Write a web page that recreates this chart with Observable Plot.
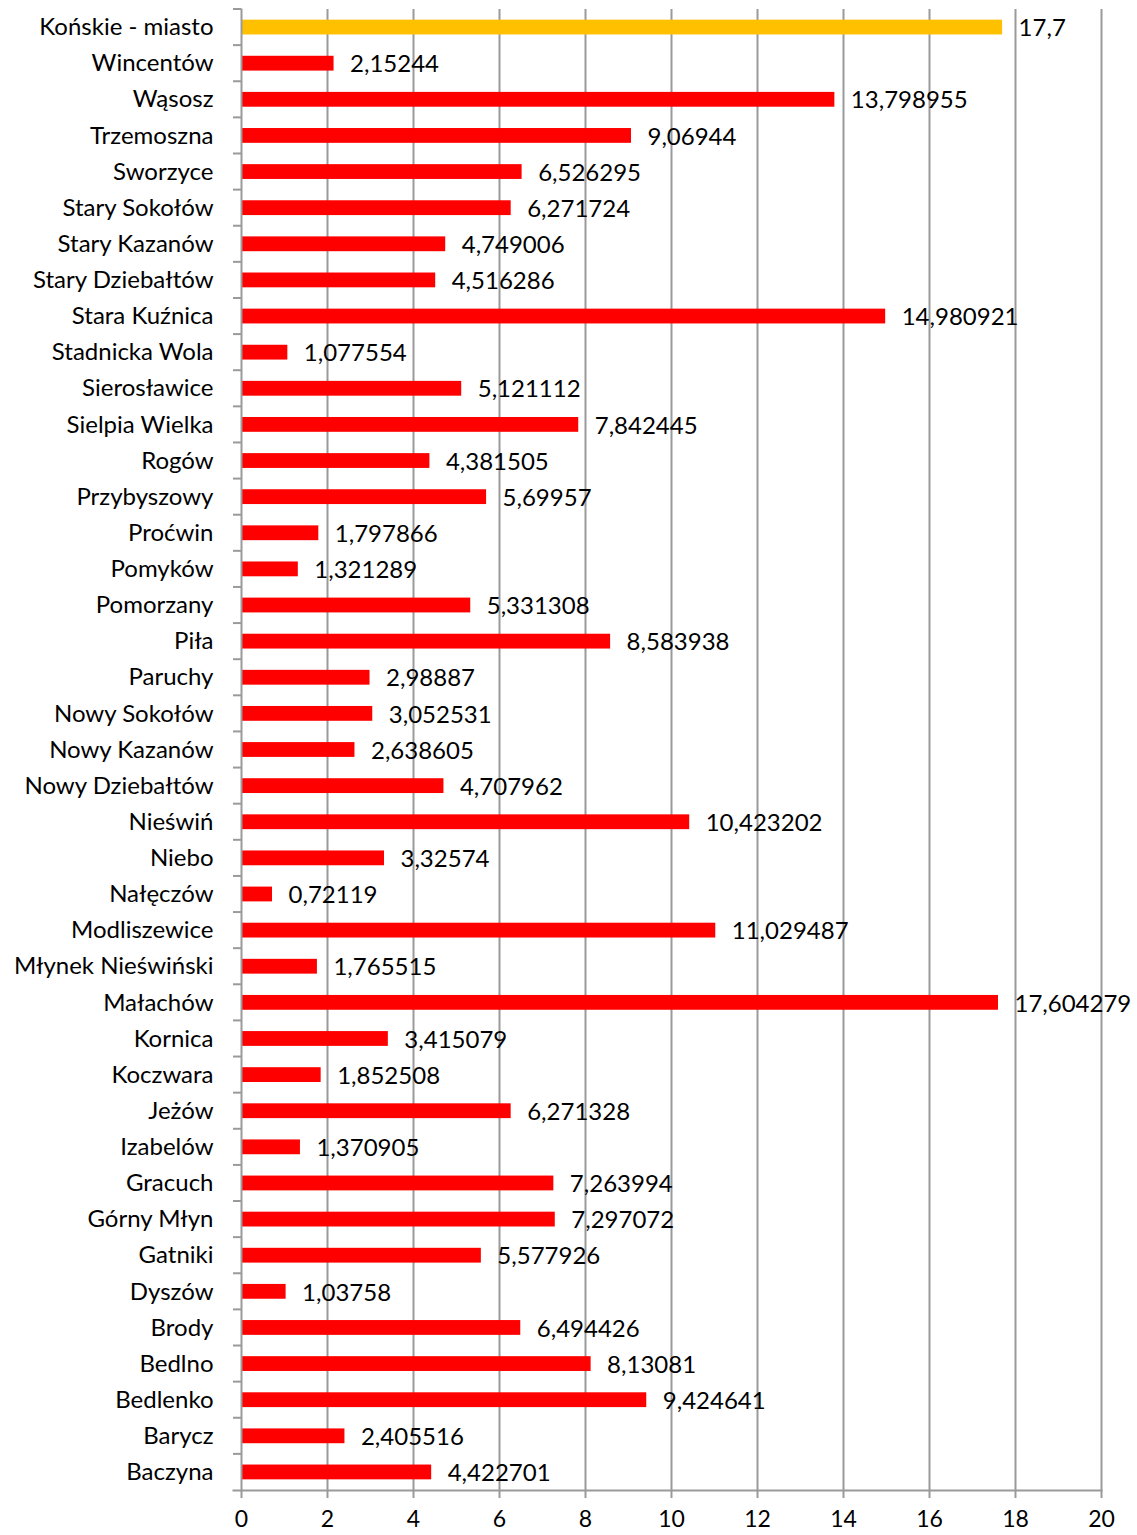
<!DOCTYPE html>
<html>
<head>
<meta charset="utf-8">
<script src="https://cdn.jsdelivr.net/npm/d3@7"></script>
<script src="https://cdn.jsdelivr.net/npm/@observablehq/plot@0.6"></script>
<style>
  html, body { margin: 0; padding: 0; background: #fff; }
  #chart svg { display: block; }
</style>
</head>
<body>
<div id="chart"></div>
<script>
const names = [
  "Końskie - miasto", "Wincentów", "Wąsosz", "Trzemoszna", "Sworzyce",
  "Stary Sokołów", "Stary Kazanów", "Stary Dziebałtów", "Stara Kuźnica",
  "Stadnicka Wola", "Sierosławice", "Sielpia Wielka", "Rogów", "Przybyszowy",
  "Proćwin", "Pomyków", "Pomorzany", "Piła", "Paruchy", "Nowy Sokołów",
  "Nowy Kazanów", "Nowy Dziebałtów", "Nieświń", "Niebo", "Nałęczów",
  "Modliszewice", "Młynek Nieświński", "Małachów", "Kornica", "Koczwara",
  "Jeżów", "Izabelów", "Gracuch", "Górny Młyn", "Gatniki", "Dyszów",
  "Brody", "Bedlno", "Bedlenko", "Barycz", "Baczyna"
];
const values = [
  17.7, 2.15244, 13.798955, 9.06944, 6.526295,
  6.271724, 4.749006, 4.516286, 14.980921,
  1.077554, 5.121112, 7.842445, 4.381505, 5.69957,
  1.797866, 1.321289, 5.331308, 8.583938, 2.98887, 3.052531,
  2.638605, 4.707962, 10.423202, 3.32574, 0.72119,
  11.029487, 1.765515, 17.604279, 3.415079, 1.852508,
  6.271328, 1.370905, 7.263994, 7.297072, 5.577926, 1.03758,
  6.494426, 8.13081, 9.424641, 2.405516, 4.422701
];
const xTicks = [0, 2, 4, 6, 8, 10, 12, 14, 16, 18, 20];
const highlighted = "Końskie - miasto";

const data = names.map((name, i) => ({name, value: values[i]}));
const fmt = v => String(v).replace(".", ",");

const font = "Lato, 'Open Sans', sans-serif";
const grid = "#9a9a9a";
const fs = 24;
const padInner = 0.59;

// outward tick marks on the category axis, at the boundaries between bands
function categoryTicks(index, scales) {
  const y = scales.y, x0 = scales.x(0);
  const step = y(names[1]) - y(names[0]);
  const g = d3.create("svg:g");
  names.forEach(n => {
    const yy = y(n) - step * padInner / 2;
    g.append("line")
      .attr("x1", x0 - 8).attr("x2", x0)
      .attr("y1", yy).attr("y2", yy)
      .attr("stroke", grid).attr("stroke-width", 2);
  });
  return g.node();
}

const chart = Plot.plot({
  width: 1137,
  height: 1535,
  marginLeft: 241,
  marginRight: 36,
  marginTop: 9,
  marginBottom: 45,
  style: {fontFamily: font, fontSize: fs + "px", color: "#000", background: "#fff"},
  x: {domain: [0, 20], ticks: xTicks, label: null},
  y: {domain: names, paddingInner: padInner, paddingOuter: padInner / 2, align: 0.5, round: false, label: null},
  marks: [
    Plot.ruleX(xTicks.filter(t => t > 0), {stroke: grid, strokeWidth: 2}),
    Plot.barX(data, {
      x: "value", y: "name",
      fill: d => d.name === highlighted ? "#FFC000" : "#FF0000"
    }),
    Plot.text(data, {
      x: "value", y: "name", text: d => fmt(d.value),
      textAnchor: "start", dx: 16, dy: 1, fontSize: fs, fill: "#000"
    }),
    Plot.frame({anchor: "left", stroke: grid, strokeWidth: 2, strokeOpacity: 1}),
    Plot.frame({anchor: "bottom", stroke: grid, strokeWidth: 2, strokeOpacity: 1, insetLeft: -8}),
    categoryTicks,
    Plot.axisY({tickSize: 0, tickPadding: 28, fontSize: fs, label: null, fill: "#000"}),
    Plot.axisX({ticks: xTicks, tickSize: 8, tickPadding: 12, stroke: grid, strokeWidth: 2, strokeOpacity: 1, fontSize: 23, label: null, fill: "#000", tickFormat: d => String(d)})
  ]
});
document.getElementById("chart").appendChild(chart);
</script>
</body>
</html>
